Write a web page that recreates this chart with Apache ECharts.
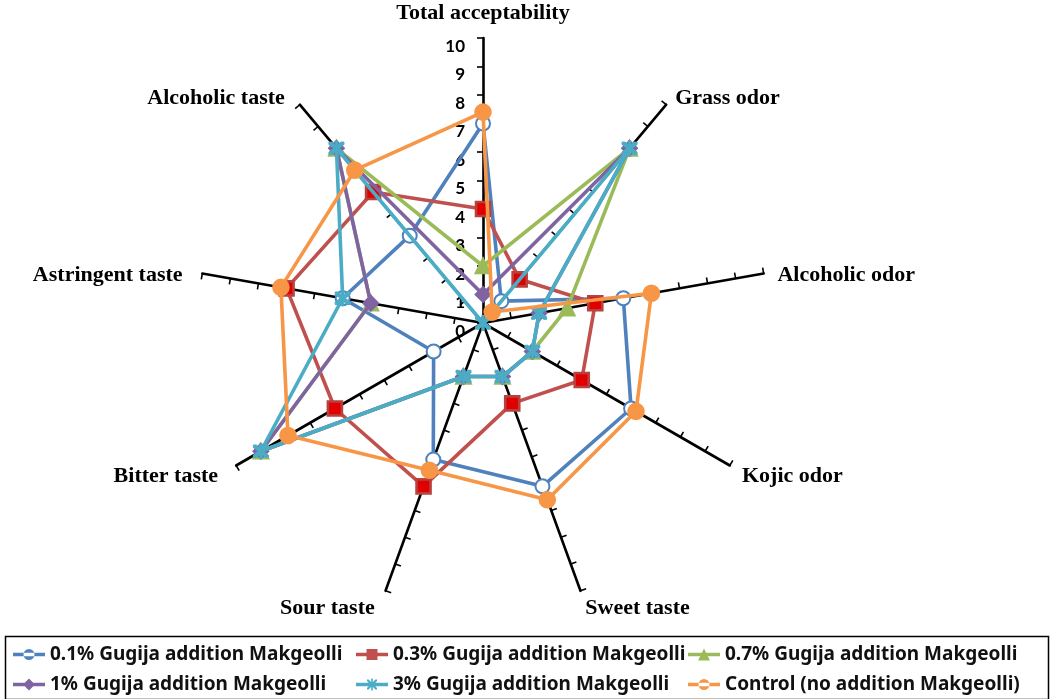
<!DOCTYPE html>
<html>
<head>
<meta charset="utf-8">
<script src="https://cdn.jsdelivr.net/npm/echarts@6/dist/echarts.min.js"></script>
<style>
html,body{margin:0;padding:0;background:#fff;}
#chart{width:1051px;height:699px;}
</style>
</head>
<body>
<div id="chart"></div>
<script>
// Axes in clockwise order starting from the top
var categories = ['Total acceptability', 'Grass odor', 'Alcoholic odor', 'Kojic odor', 'Sweet taste', 'Sour taste', 'Bitter taste', 'Astringent taste', 'Alcoholic taste'];
var seriesNames = ['0.1% Gugija addition Makgeolli', '0.3% Gugija addition Makgeolli', '0.7% Gugija addition Makgeolli', '1% Gugija addition Makgeolli', '3% Gugija addition Makgeolli', 'Control (no addition Makgeolli)'];
var g01 = [7.0, 1.0, 5.0, 6.0, 6.1, 5.1, 2.0, 5.0, 4.0];
var g03 = [4.0, 2.0, 4.0, 4.0, 3.0, 6.1, 6.0, 7.0, 6.0];
var g07 = [2.0, 8.0, 3.0, 2.0, 2.0, 2.0, 9.0, 4.0, 8.0];
var g1  = [1.0, 8.0, 2.0, 2.0, 2.0, 2.0, 9.0, 4.0, 8.0];
var g3  = [0.0, 8.0, 2.0, 2.0, 2.0, 2.0, 9.0, 5.0, 8.0];
var control = [7.4, 0.5, 6.0, 6.2, 6.6, 5.5, 7.9, 7.2, 7.0];
var scaleMin = 0, scaleMax = 10, scaleStep = 1;

var values = [g01, g03, g07, g1, g3, control];
var colors = ['#4F81BD', '#C0504D', '#9BBB59', '#8064A2', '#4BACC6', '#F79646'];

var starPath = 'path://M1,1L3,1L6,4.3L9,1L11,1L11,3L7.7,6L11,9L11,11L9,11L6,7.7L3,11L1,11L1,9L4.3,6L1,3Z M5.2,0L6.8,0L6.8,12L5.2,12Z';
var symbols = ['emptyCircle', 'rect', 'triangle', 'diamond', starPath, 'circle'];
var sizes = [14, 14, 14, 14, 15, 15];

var bar = 'M0,4.8L32,4.8L32,8.2L0,8.2Z';
var legendIcons = [
  'path://' + bar + 'M10.5,6.5A5.5,5.5 0 1,0 21.5,6.5A5.5,5.5 0 1,0 10.5,6.5Z',
  'path://' + bar + 'M10.5,1L21.5,1L21.5,12L10.5,12Z',
  'path://' + bar + 'M16,0.5L22,12.5L10,12.5Z',
  'path://' + bar + 'M16,0.5L22,6.5L16,12.5L10,6.5Z',
  'path://' + bar + 'M11,1.5L12.6,1.5L16,4.9L19.4,1.5L21,1.5L21,3.1L17.6,6.5L21,9.9L21,11.5L19.4,11.5L16,8.1L12.6,11.5L11,11.5L11,9.9L14.4,6.5L11,3.1Z M15.2,0.5L16.8,0.5L16.8,12.5L15.2,12.5Z',
  'path://' + bar + 'M10.5,6.5A5.5,5.5 0 1,0 21.5,6.5A5.5,5.5 0 1,0 10.5,6.5Z'
];

// ECharts radar runs counter-clockwise; reorder to draw clockwise
var order = [0];
for (var i = categories.length - 1; i >= 1; i--) order.push(i);

var leftSide = { 'Sour taste': 1, 'Bitter taste': 1, 'Astringent taste': 1, 'Alcoholic taste': 1 };
var indicator = order.map(function (k) { return { name: categories[k], min: scaleMin, max: scaleMax }; });

var series = values.map(function (arr, s) {
  var item = {
    type: 'radar',
    name: seriesNames[s],
    z: 2 + s,
    symbol: symbols[s],
    symbolSize: sizes[s],
    lineStyle: { color: colors[s], width: 3.6 },
    itemStyle: { color: colors[s], borderColor: colors[s], borderWidth: 2.6 },
    data: [{ name: seriesNames[s], value: order.map(function (k) { return arr[k]; }) }]
  };
  if (s === 1) item.itemStyle = { color: '#E00000', borderColor: '#B8403D', borderWidth: 2.6 };
  if (s === 4) item.itemStyle = { color: colors[s], borderColor: colors[s], borderWidth: 1 };
  return item;
});

var nameFont = { color: '#000', fontFamily: 'Liberation Serif', fontWeight: 'bold', fontSize: 22 };
var legendFont = { fontFamily: 'Noto Sans', fontWeight: 'bold', fontSize: 19, color: '#111' };
function mkLegend(ids, left) {
  return {
    orient: 'vertical',
    left: left,
    top: 645,
    padding: 0,
    itemGap: 11,
    itemWidth: 32,
    itemHeight: 13,
    lineStyle: { width: 4 },
    textStyle: legendFont,
    data: ids.map(function (s) {
      return { name: seriesNames[s], icon: legendIcons[s], itemStyle: { color: colors[s], borderWidth: 0, borderColor: colors[s] } };
    })
  };
}

var chart = echarts.init(document.getElementById('chart'), null, { renderer: 'canvas' });
chart.setOption({
  backgroundColor: '#fff',
  animation: false,
  radar: {
    center: [483, 323],
    radius: 285,
    startAngle: 90,
    splitNumber: 10,
    shape: 'polygon',
    indicator: indicator,
    nameGap: 14,
    axisName: {
      color: '#000', fontFamily: 'Liberation Serif', fontWeight: 'bold', fontSize: 22,
      formatter: function (name) { return (leftSide[name] ? '{l|' : '{r|') + name + '}'; },
      rich: {
        l: Object.assign({ padding: [8, 6, 0, 0] }, nameFont),
        r: Object.assign({ padding: [8, 0, 0, 0] }, nameFont)
      }
    },
    axisLine: { lineStyle: { color: '#000', width: 2.6 } },
    axisTick: { show: true, length: 6, lineStyle: { color: '#000', width: 1.6 } },
    splitLine: { show: false },
    splitArea: { show: false },
    axisLabel: { show: false }
  },
  polar: { center: [483, 323], radius: 285 },
  angleAxis: { show: false, startAngle: 90, min: 0, max: 360 },
  radiusAxis: {
    type: 'value', min: scaleMin, max: scaleMax, interval: scaleStep,
    axisLine: { show: false }, axisTick: { show: false }, splitLine: { show: false },
    axisLabel: { show: true, fontFamily: 'Lato', fontWeight: 'bold', fontSize: 17, color: '#000', margin: 18, verticalAlign: 'top' }
  },
  legend: [mkLegend([0, 3], 13), mkLegend([1, 4], 356), mkLegend([2, 5], 688)],
  graphic: [{
    type: 'rect', left: 3, top: 634, silent: true,
    shape: { width: 1043, height: 63 },
    style: { fill: 'none', stroke: '#000', lineWidth: 1.5 }
  }],
  series: series
});
</script>
</body>
</html>
